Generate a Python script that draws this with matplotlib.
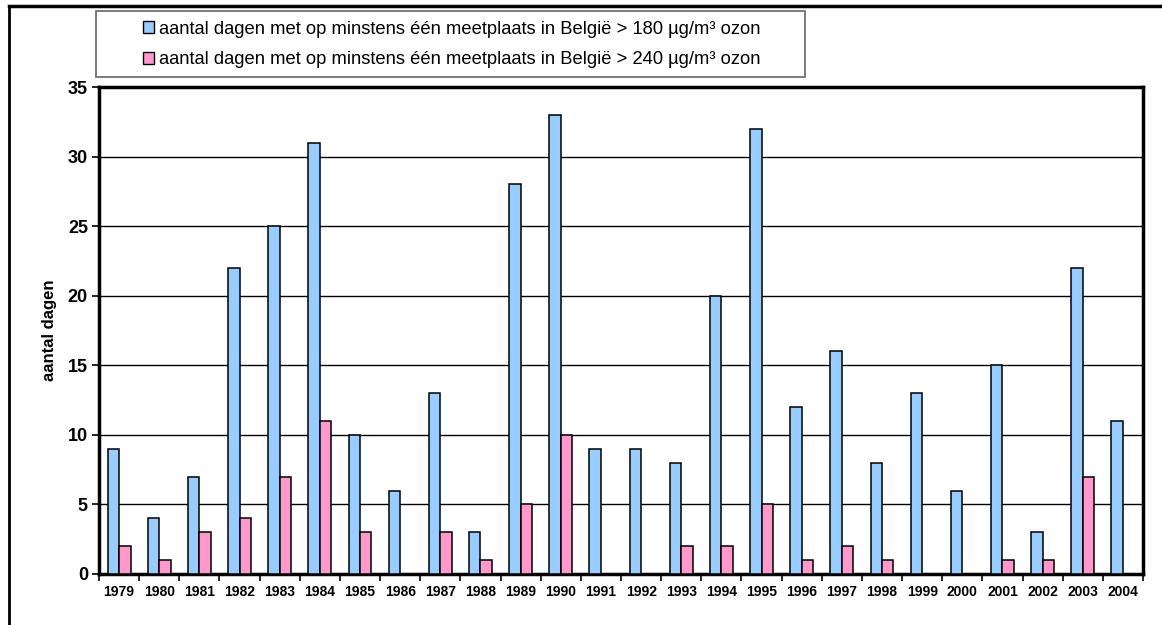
import matplotlib
matplotlib.use("Agg")
import matplotlib.pyplot as plt
import numpy as np
from matplotlib.patches import Patch, Rectangle
from matplotlib.lines import Line2D

years = ["1979", "1980", "1981", "1982", "1983", "1984", "1985", "1986", "1987",
         "1988", "1989", "1990", "1991", "1992", "1993", "1994", "1995", "1996",
         "1997", "1998", "1999", "2000", "2001", "2002", "2003", "2004"]
days_180 = [9, 4, 7, 22, 25, 31, 10, 6, 13, 3, 28, 33, 9, 9, 8, 20, 32, 12, 16, 8, 13, 6, 15, 3, 22, 11]
days_240 = [2, 1, 3, 4, 7, 11, 3, 0, 3, 1, 5, 10, 0, 0, 2, 2, 5, 1, 2, 1, 0, 0, 1, 1, 7, 0]
labels = ["aantal dagen met op minstens één meetplaats in België > 180 µg/m³ ozon",
          "aantal dagen met op minstens één meetplaats in België > 240 µg/m³ ozon"]
colors = ["#99CCFF", "#FF99CC"]

plt.rcParams['font.family'] = ['Liberation Sans', 'DejaVu Sans']

W, H = 1162, 625
fig = plt.figure(figsize=(W / 100, H / 100), dpi=100)
ax = fig.add_axes([99 / W, 1 - 574 / H, (1143 - 99) / W, (574 - 87) / H])

x = np.arange(len(years))
bw = 1 / 3.5
ax.bar(x - bw / 2, days_180, width=bw, color=colors[0], edgecolor="black", linewidth=1.1, zorder=3)
ax.bar(x + bw / 2, [v if v > 0 else np.nan for v in days_240], width=bw, color=colors[1],
       edgecolor="black", linewidth=1.1, zorder=3)

ax.set_xlim(-0.5, len(years) - 0.5)
ax.set_ylim(0, 35)
ax.set_yticks(range(0, 36, 5))
ax.tick_params(axis="y", labelsize=13, length=5, width=1.2, direction="out", pad=3)
for t in ax.get_yticklabels():
    t.set_fontweight("bold")
ax.set_xticks(x)
ax.set_xticklabels(years, fontsize=10, fontweight="bold")
ax.tick_params(axis="x", length=0, pad=8)
ax.set_xticks(np.arange(-0.5, len(years), 1), minor=True)
ax.tick_params(axis="x", which="minor", length=5, width=1.2, direction="out")
ax.yaxis.grid(True, color="black", linewidth=1.0, zorder=0)
ax.set_axisbelow(True)
for s in ax.spines.values():
    s.set_linewidth(2.5)
ax.set_ylabel("aantal dagen", fontsize=12, fontweight="bold", labelpad=8)

# outer frame (left and top visible)
fig.add_artist(Line2D([8.5 / W, 8.5 / W], [1 - 6 / H, 0], transform=fig.transFigure, color="black", linewidth=2))
fig.add_artist(Line2D([8.5 / W, 1], [1 - 6 / H, 1 - 6 / H], transform=fig.transFigure, color="black", linewidth=2.5))

# legend box
fig.add_artist(Rectangle((96 / W, 1 - 77 / H), (805 - 96) / W, (77 - 11) / H, transform=fig.transFigure,
                         facecolor="white", edgecolor="#666666", linewidth=1.2))
handles = [Patch(facecolor=c, edgecolor="black", linewidth=1) for c in colors]
fig.legend(handles, labels, loc="center", bbox_to_anchor=(452 / W, 1 - 44.5 / H), frameon=False,
           fontsize=13.2, handlelength=0.6, handleheight=0.6, handletextpad=0.3, labelspacing=0.75)

fig.savefig("out.png", dpi=100)
